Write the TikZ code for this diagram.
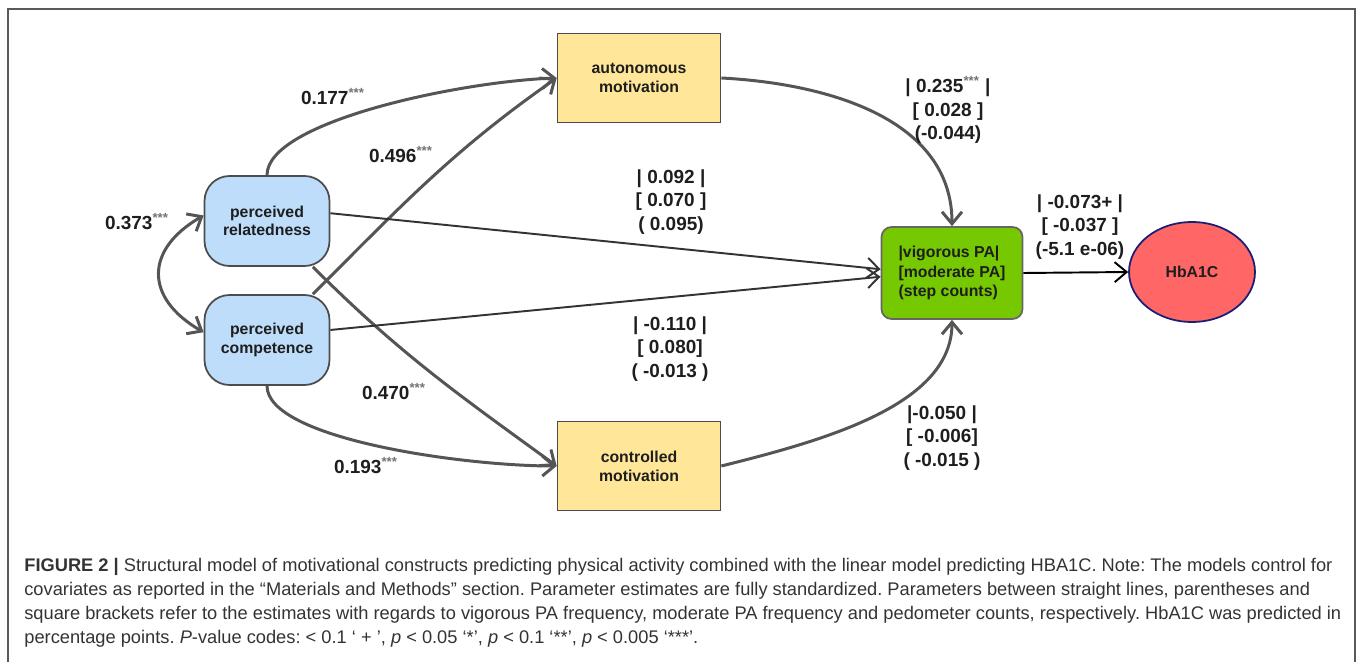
\documentclass[tikz,border=0pt]{standalone}
\usepackage{fontspec}
\setmainfont{Liberation Sans}
\usetikzlibrary{arrows.meta,shapes.geometric}

\definecolor{relblue}{RGB}{190,221,250}
\definecolor{motyellow}{RGB}{255,230,153}
\definecolor{pagreen}{RGB}{118,200,0}
\definecolor{hbred}{RGB}{255,102,102}
\definecolor{hbnavy}{RGB}{25,30,120}
\definecolor{pathgray}{RGB}{85,85,85}
\definecolor{textdark}{RGB}{30,30,30}

\begin{document}
\frenchspacing
\begin{tikzpicture}[x=0.02cm,y=-0.02cm,
        >={Straight Barb[length=2.4mm,width=4mm]},
        relbox/.style={draw=black!70, line width=1pt, fill=relblue, rounded corners=0.5cm,
            minimum width=2.5cm, minimum height=1.8cm, inner sep=0pt, align=center,
            font=\fontsize{9}{10.4}\selectfont\bfseries, text=textdark},
        motbox/.style={draw=black!70, line width=1pt, fill=motyellow,
            minimum width=3.26cm, minimum height=1.78cm, inner sep=0pt, align=center,
            font=\fontsize{9}{10.8}\selectfont\bfseries, text=textdark},
        pabox/.style={draw=black!60, line width=1pt, fill=pagreen, rounded corners=0.2cm,
            minimum width=2.82cm, minimum height=1.84cm, inner sep=0pt, align=left,
            font=\fontsize{9}{11.3}\selectfont\bfseries, text=textdark},
        hbnode/.style={ellipse, draw=hbnavy, line width=1pt, fill=hbred,
            minimum width=2.52cm, minimum height=2cm, inner sep=0pt,
            font=\fontsize{9}{11}\selectfont\bfseries, text=textdark},
        est/.style={align=center, inner sep=0pt, font=\fontsize{10.8}{13.4}\selectfont\bfseries, text=textdark},
        path/.style={->, line width=1.7pt, pathgray},
        thin path/.style={->, line width=1.1pt, black!80},
        caption/.style={align=left, inner sep=0pt, font=\fontsize{10.4}{13.6}\selectfont, text=black!80}]
    \useasboundingbox (0,0) rectangle (1358,662);
    \draw[line width=1.2pt, black!65] (8,662) -- (8,9) -- (1355,9) -- (1355,662);

    \node[relbox] (rel) at (267,221) {perceived\\relatedness};
    \node[relbox] (comp) at (267,340) {perceived\\competence};
    \node[motbox] (aut) at (639,78) {autonomous\\motivation};
    \node[motbox] (cont) at (639,466) {controlled\\motivation};
    \node[pabox] (pa) at (952,273) {|vigorous PA|\\{[moderate PA]}\\(step counts)};
    \node[hbnode] (hb) at (1192,272) {HbA1C};

    \draw[path] (rel.north) to[out=90,in=182,out looseness=0.45,in looseness=0.8] (aut.west);
    \draw[path] (comp.45) to[out=45,in=215] (aut.west);
    \draw[path] (rel.-45) to[out=-45,in=144] (cont.west);
    \draw[path] (comp.south) to[out=-90,in=180,out looseness=0.45,in looseness=0.8] (cont.west);
    \draw[thin path] (rel.7) -- (pa.177);
    \draw[thin path] (comp.9) -- (pa.183);
    \draw[path] (aut.east) to[out=-3,in=90] (pa.north);
    \draw[path] (cont.east) to[out=14,in=-90,in looseness=0.8] (pa.south);
    \draw[->, line width=1.1pt, black] (pa.east) -- (hb.west);
    \draw[path, <->] (rel.175) to[out=210,in=150,looseness=1.5] (comp.173);

    \node[est] (e177) at (333,97) {0.177\textsuperscript{\color{black!55}***}};
    \node[est] (e496) at (401,155) {0.496\textsuperscript{\color{black!55}***}};
    \node[est] (e470) at (394,392) {0.470\textsuperscript{\color{black!55}***}};
    \node[est] (e193) at (366,466) {0.193\textsuperscript{\color{black!55}***}};
    \node[est] (e373) at (137,222) {0.373\textsuperscript{\color{black!55}***}};
    \node[est] (erel) at (671,202) {| 0.092 |\\{[ 0.070 ]}\\( 0.095)};
    \node[est] (ecomp) at (670,349) {| -0.110 |\\{[ 0.080]}\\( -0.013 )};
    \node[est] (eaut) at (948,110) {| 0.235\textsuperscript{\color{black!55}***} |\\{[ 0.028 ]}\\(-0.044)};
    \node[est] (econt) at (942,438) {|-0.050 |\\{[ -0.006]}\\( -0.015 )};
    \node[est] (ehb) at (1080,227) {| -0.073+ |\\{[ -0.037 ]}\\(-5.1 e-06)};

    \node[caption, anchor=north west] (cap) at (24,558) {\textbf{FIGURE 2 |} Structural model of motivational constructs predicting physical activity combined with the linear model predicting HBA1C. Note: The models control for\\covariates as reported in the “Materials and Methods” section. Parameter estimates are fully standardized. Parameters between straight lines, parentheses and\\square brackets refer to the estimates with regards to vigorous PA frequency, moderate PA frequency and pedometer counts, respectively. HbA1C was predicted in\\percentage points. \textit{P}-value codes: < 0.1 ‘ + ’, \textit{p} < 0.05 ‘*’, \textit{p} < 0.1 ‘**’, \textit{p} < 0.005 ‘***’.};
\end{tikzpicture}
\end{document}
